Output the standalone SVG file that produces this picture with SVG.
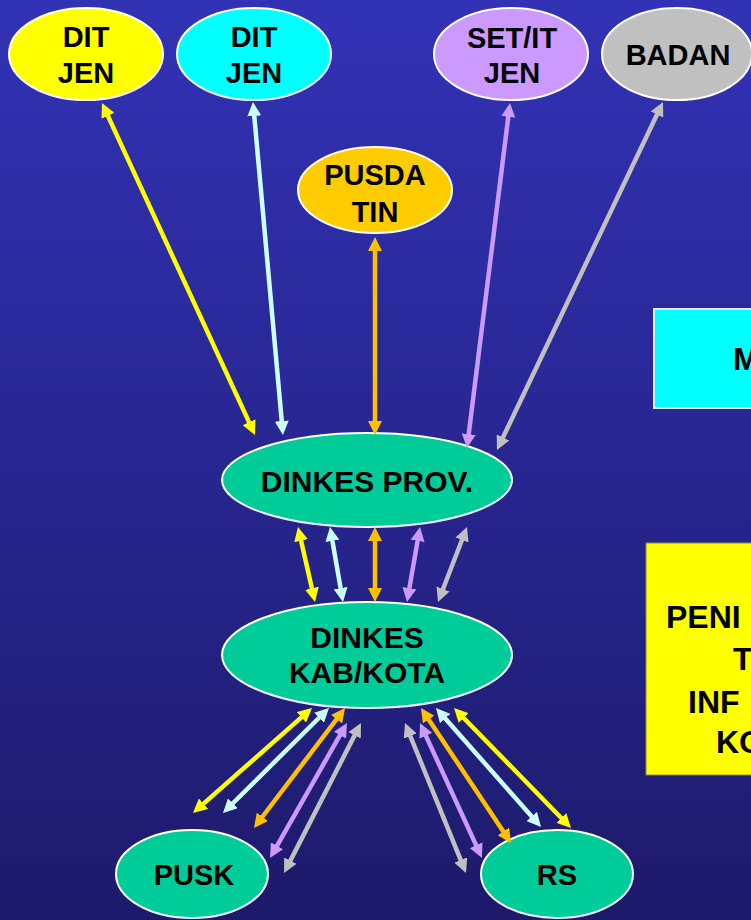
<svg xmlns="http://www.w3.org/2000/svg" width="751" height="920" viewBox="0 0 751 920">
<style>
.n{stroke:#ffffff;stroke-width:2}
.t{font-family:"Liberation Sans",Arial,sans-serif;font-weight:bold;fill:#000;text-anchor:middle}
.c{fill:none;stroke-width:4.5}
.y{stroke:#ffff00;marker-start:url(#my);marker-end:url(#my)}
.b{stroke:#ccffff;marker-start:url(#mb);marker-end:url(#mb)}
.o{stroke:#ffc000;marker-start:url(#mo);marker-end:url(#mo)}
.p{stroke:#cc99ff;marker-start:url(#mp);marker-end:url(#mp)}
.g{stroke:#c0c0c0;marker-start:url(#mg);marker-end:url(#mg)}
</style>
<defs>
<linearGradient id="bg" x1="0" y1="0" x2="0" y2="1">
<stop offset="0" stop-color="#3232b6"/>
<stop offset="1" stop-color="#1d1a6b"/>
</linearGradient>
<marker id="my" markerUnits="userSpaceOnUse" markerWidth="14" markerHeight="14" refX="4" refY="7" orient="auto-start-reverse"><path d="M0,0 L14,7 L0,14 z" fill="#ffff00"/></marker>
<marker id="mb" markerUnits="userSpaceOnUse" markerWidth="14" markerHeight="14" refX="4" refY="7" orient="auto-start-reverse"><path d="M0,0 L14,7 L0,14 z" fill="#ccffff"/></marker>
<marker id="mo" markerUnits="userSpaceOnUse" markerWidth="14" markerHeight="14" refX="4" refY="7" orient="auto-start-reverse"><path d="M0,0 L14,7 L0,14 z" fill="#ffc000"/></marker>
<marker id="mp" markerUnits="userSpaceOnUse" markerWidth="14" markerHeight="14" refX="4" refY="7" orient="auto-start-reverse"><path d="M0,0 L14,7 L0,14 z" fill="#cc99ff"/></marker>
<marker id="mg" markerUnits="userSpaceOnUse" markerWidth="14" markerHeight="14" refX="4" refY="7" orient="auto-start-reverse"><path d="M0,0 L14,7 L0,14 z" fill="#c0c0c0"/></marker>
</defs>
<rect x="0" y="0" width="751" height="920" fill="url(#bg)"/>

<g id="box-m">
<rect x="654" y="309" width="110" height="99" fill="#00ffff" stroke="#e8e8ff" stroke-width="2"/>
<text x="733" y="370" font-family="Liberation Sans, Arial, sans-serif" font-weight="bold" font-size="32">M</text>
</g>
<g id="box-peni">
<rect x="646" y="543" width="120" height="232" fill="#ffff00" stroke="#8a8a40" stroke-width="1"/>
<text font-family="Liberation Sans, Arial, sans-serif" font-weight="bold" font-size="32">
<tspan x="666" y="628">PENI</tspan>
<tspan x="733" y="670">T</tspan>
<tspan x="688" y="713">INF</tspan>
<tspan x="716" y="753">KO</tspan>
</text>
</g>

<g id="ditjen1"><ellipse class="n" cx="86" cy="54" rx="77" ry="46" fill="#ffff00"/>
<text class="t" font-size="29"><tspan x="86" y="47">DIT</tspan><tspan x="86" y="83">JEN</tspan></text></g>
<g id="ditjen2"><ellipse class="n" cx="254" cy="54" rx="77" ry="46" fill="#00ffff"/>
<text class="t" font-size="29"><tspan x="254" y="47">DIT</tspan><tspan x="254" y="83">JEN</tspan></text></g>
<g id="setitjen"><ellipse class="n" cx="511" cy="54" rx="77" ry="46" fill="#cc99ff"/>
<text class="t" font-size="29"><tspan x="512" y="48">SET/IT</tspan><tspan x="512" y="83">JEN</tspan></text></g>
<g id="badan"><ellipse class="n" cx="677" cy="54" rx="75" ry="46" fill="#c0c0c0"/>
<text class="t" font-size="29" x="678" y="65">BADAN</text></g>
<g id="pusdatin"><ellipse class="n" cx="375" cy="190" rx="77" ry="43" fill="#ffcc00"/>
<text class="t" font-size="29"><tspan x="375" y="185">PUSDA</tspan><tspan x="375" y="222">TIN</tspan></text></g>
<g id="dinkesprov"><ellipse class="n" cx="367" cy="480" rx="145" ry="47" fill="#00cc99"/>
<text class="t" font-size="30" x="367" y="492">DINKES PROV.</text></g>
<g id="dinkeskab"><ellipse class="n" cx="367" cy="655" rx="145" ry="53" fill="#00cc99"/>
<text class="t" font-size="30"><tspan x="367" y="648">DINKES</tspan><tspan x="367" y="683">KAB/KOTA</tspan></text></g>
<g id="pusk"><ellipse class="n" cx="192" cy="874" rx="76" ry="44" fill="#00cc99"/>
<text class="t" font-size="29" x="194" y="885">PUSK</text></g>
<g id="rs"><ellipse class="n" cx="557" cy="874" rx="76" ry="44" fill="#00cc99"/>
<text class="t" font-size="29" x="557" y="885">RS</text></g>

<g id="connectors">
<path class="c y" d="M106.2,112.1 L250.8,425.9"/>
<path class="c b" d="M253.9,112.0 L282.1,425.0"/>
<path class="c o" d="M375,247 L375,425"/>
<path class="c p" d="M508.8,112.9 L468.2,438.1"/>
<path class="c g" d="M658.7,111.0 L501.3,441.0"/>

<path class="c y" d="M300.2,536.8 L312.8,592.2"/>
<path class="c b" d="M331.7,536.9 L341.3,592.1"/>
<path class="c o" d="M375,537 L375,592"/>
<path class="c p" d="M418.3,536.9 L408.7,592.1"/>
<path class="c g" d="M463.4,536.3 L441.6,592.7"/>

<path class="c y" d="M304.5,714.6 L200.5,806.4"/>
<path class="c b" d="M321.9,715.0 L230.1,806.0"/>
<path class="c o" d="M339.0,716.0 L260.0,820.0"/>
<path class="c p" d="M342.0,731.7 L275.0,849.3"/>
<path class="c g" d="M356.4,731.9 L288.6,864.1"/>

<path class="c g" d="M408.8,732.3 L462.2,863.7"/>
<path class="c p" d="M424.2,732.1 L477.8,848.9"/>
<path class="c o" d="M426.5,716.3 L505.5,834.7"/>
<path class="c b" d="M442.6,715.5 L534.4,819.5"/>
<path class="c y" d="M461.0,715.2 L564.0,820.8"/>
</g>
</svg>
